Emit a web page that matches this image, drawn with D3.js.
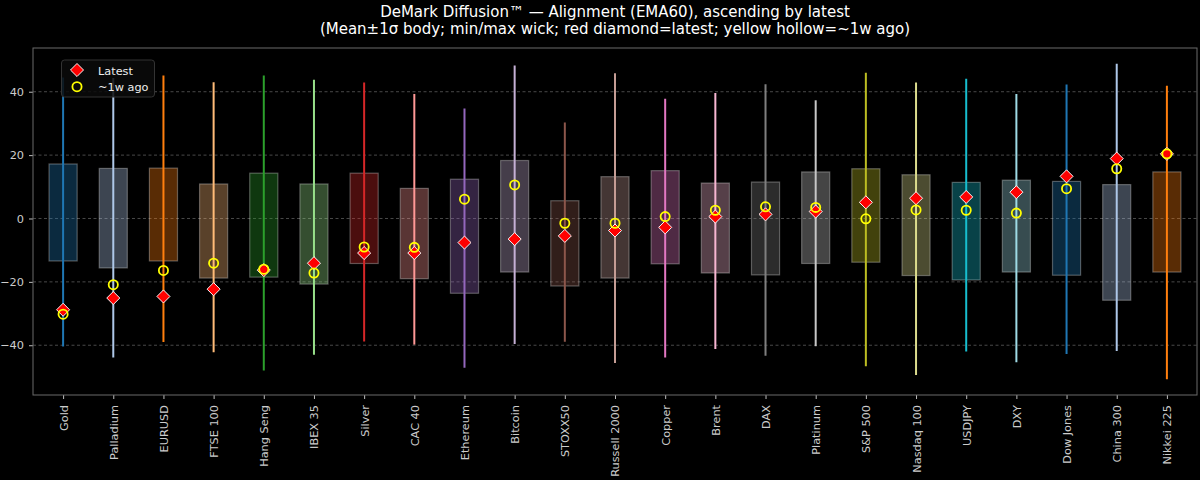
<!DOCTYPE html>
<html>
<head>
<meta charset="utf-8">
<script src="https://cdn.jsdelivr.net/npm/d3@7"></script>
<style>
  body { margin: 0; background: #000; }
  text { font-family: "DejaVu Sans", sans-serif; }
</style>
</head>
<body>
<div id="chart"></div>
<script>
// *** DATA ***
let assets = ["Gold", "Palladium", "EURUSD", "FTSE 100", "Hang Seng", "IBEX 35", "Silver", "CAC 40",
  "Ethereum", "Bitcoin", "STOXX50", "Russell 2000", "Copper", "Brent", "DAX", "Platinum", "S&P 500",
  "Nasdaq 100", "USDJPY", "DXY", "Dow Jones", "China 300", "Nikkei 225"];
let bodyHigh = [17.2, 15.8, 15.9, 10.9, 14.3, 10.9, 14.3, 9.5, 12.4, 18.3, 5.6, 13.2, 15.1, 11.2, 11.5, 14.7, 15.7, 13.8, 11.4, 12.1, 11.7, 10.7, 14.7];
let bodyLow = [-13.4, -15.6, -13.4, -18.8, -18.5, -20.7, -14.2, -19.0, -23.6, -16.9, -21.3, -18.8, -14.3, -17.2, -17.8, -14.2, -13.8, -18.0, -19.4, -16.9, -17.9, -25.8, -16.9];
let wickHigh = [44.5, 44.3, 45.1, 43.0, 45.1, 43.8, 42.9, 39.3, 34.7, 48.3, 30.3, 45.8, 37.8, 39.6, 42.4, 37.3, 46.0, 42.9, 44.1, 39.3, 42.3, 48.8, 41.9];
let wickLow = [-40.4, -43.9, -39.0, -42.2, -48.0, -43.0, -38.8, -39.8, -47.1, -39.6, -38.9, -45.6, -43.9, -41.2, -43.3, -40.3, -46.6, -49.4, -42.0, -45.4, -42.8, -41.8, -50.7];
let latest = [-28.8, -25.1, -24.6, -22.3, -16.3, -14.1, -10.9, -10.9, -7.6, -6.5, -5.5, -3.8, -2.8, 0.6, 1.3, 2.2, 5.1, 6.4, 6.8, 8.3, 13.3, 18.9, 20.4];
let weekAgo = [-30.2, -20.9, -16.4, -14.1, -16.0, -17.2, -9.0, -9.1, 6.1, 10.6, -1.5, -1.5, 0.6, 2.6, 3.7, 3.5, -0.1, 2.7, 2.6, 1.7, 9.4, 15.7, 20.4];
let yTicks = [-40, -20, 0, 20, 40];
let palette = ["#1f77b4", "#aec7e8", "#ff7f0e", "#ffbb78", "#2ca02c", "#98df8a", "#d62728", "#ff9896",
  "#9467bd", "#c5b0d5", "#8c564b", "#c49c94", "#e377c2", "#f7b6d2", "#7f7f7f", "#c7c7c7",
  "#bcbd22", "#dbdb8d", "#17becf", "#9edae5"];

let title1 = "DeMark Diffusion\u2122 \u2014 Alignment (EMA60), ascending by latest";
let title2 = "(Mean\u00B11\u03C3 body; min/max wick; red diamond=latest; yellow hollow=~1w ago)";

// *** SETTINGS ***
let width = 1200, height = 480;
let plot = {left: 33, right: 1197, top: 48, bottom: 395};
let boxFrac = 0.56;
let labelSize = "11.3px";

let svg = d3.select("#chart").append("svg")
  .attr("width", width)
  .attr("height", height)
  .style("background", "#000");

let x = d3.scaleLinear().domain([-0.6, assets.length - 0.4]).range([plot.left, plot.right]);
let y = d3.scaleLinear().domain([-55.7, 53.8]).range([plot.bottom, plot.top]);
let step = x(1) - x(0);

//Title
svg.append("text").attr("x", 615).attr("y", 17).attr("text-anchor", "middle")
  .style("font-size", "15px").style("fill", "#fff").text(title1);
svg.append("text").attr("x", 615).attr("y", 34).attr("text-anchor", "middle")
  .style("font-size", "15px").style("fill", "#fff").text(title2);

//Grid
svg.append("g").selectAll("line")
  .data(yTicks)
  .enter()
  .append("line")
    .attr("x1", plot.left).attr("x2", plot.right)
    .attr("y1", d => y(d)).attr("y2", d => y(d))
    .style("stroke", "#5a5a5a").style("stroke-width", 0.8)
    .style("stroke-dasharray", "3,2.5");

//Axes
let yAxis = svg.append("g")
  .attr("transform", `translate(${plot.left},0)`)
  .call(d3.axisLeft(y).tickValues(yTicks).tickSize(4).tickPadding(5).tickFormat(d => d < 0 ? "\u2212" + Math.abs(d) : d));
yAxis.select(".domain").remove();
yAxis.selectAll("line").style("stroke", "#bbb");
yAxis.selectAll("text").style("fill", "#ccc").style("font-size", labelSize).style("font-family", "DejaVu Sans");

let xAxis = svg.append("g")
  .attr("transform", `translate(0,${plot.bottom})`)
  .call(d3.axisBottom(x).tickValues(d3.range(assets.length)).tickSize(4).tickFormat(i => assets[i]));
xAxis.select(".domain").remove();
xAxis.selectAll("line").style("stroke", "#bbb");
xAxis.selectAll("text")
  .attr("transform", "rotate(-90)")
  .attr("x", -10).attr("y", 0).attr("dy", "0.35em")
  .attr("text-anchor", "end")
  .style("fill", "#ccc").style("font-size", labelSize).style("font-family", "DejaVu Sans");

//Bodies
let idx = d3.range(assets.length);
svg.append("g").selectAll("rect")
  .data(idx)
  .enter()
  .append("rect")
    .attr("x", i => x(i) - step * boxFrac / 2)
    .attr("width", step * boxFrac)
    .attr("y", i => y(bodyHigh[i]))
    .attr("height", i => y(bodyLow[i]) - y(bodyHigh[i]))
    .style("fill", i => palette[i % palette.length])
    .style("fill-opacity", 0.35)
    .style("stroke", "rgba(255,255,255,0.3)")
    .style("stroke-width", 1.2);

//Wicks
svg.append("g").selectAll("line")
  .data(idx)
  .enter()
  .append("line")
    .attr("x1", i => x(i)).attr("x2", i => x(i))
    .attr("y1", i => y(wickHigh[i])).attr("y2", i => y(wickLow[i]))
    .style("stroke", i => palette[i % palette.length])
    .style("stroke-width", 2);

//Latest diamonds
let diamond = d3.symbol().type(d3.symbolSquare).size(85);
svg.append("g").selectAll("path")
  .data(idx)
  .enter()
  .append("path")
    .attr("d", diamond)
    .attr("transform", i => `translate(${x(i)},${y(latest[i])}) rotate(45)`)
    .style("fill", "#ff0000").style("stroke", "#fff").style("stroke-width", 0.9);

//Week ago circles
svg.append("g").selectAll("circle")
  .data(idx)
  .enter()
  .append("circle")
    .attr("cx", i => x(i)).attr("cy", i => y(weekAgo[i]))
    .attr("r", 4.6)
    .style("fill", "none").style("stroke", "#ffff00").style("stroke-width", 1.8);

//Frame
svg.append("rect")
  .attr("x", plot.left).attr("y", plot.top)
  .attr("width", plot.right - plot.left).attr("height", plot.bottom - plot.top)
  .style("fill", "none").style("stroke", "#6a6a6a").style("stroke-width", 1);

//Legend
let legend = svg.append("g").attr("class", "legend");
legend.append("rect")
  .attr("x", 61.5).attr("y", 60).attr("width", 93).attr("height", 37).attr("rx", 3)
  .style("fill", "#0b0b0b").style("fill-opacity", 0.85)
  .style("stroke", "#333").style("stroke-width", 1);
legend.append("path").attr("d", diamond)
  .attr("transform", "translate(77,70) rotate(45)")
  .style("fill", "#ff0000").style("stroke", "#fff").style("stroke-width", 0.9);
legend.append("circle").attr("cx", 77).attr("cy", 86.7).attr("r", 4.6)
  .style("fill", "none").style("stroke", "#ffff00").style("stroke-width", 1.8);
legend.append("text").attr("x", 98).attr("y", 74.5).style("font-size", labelSize).style("fill", "#eee").text("Latest");
legend.append("text").attr("x", 98).attr("y", 91).style("font-size", labelSize).style("fill", "#eee").text("~1w ago");
</script>
</body>
</html>
